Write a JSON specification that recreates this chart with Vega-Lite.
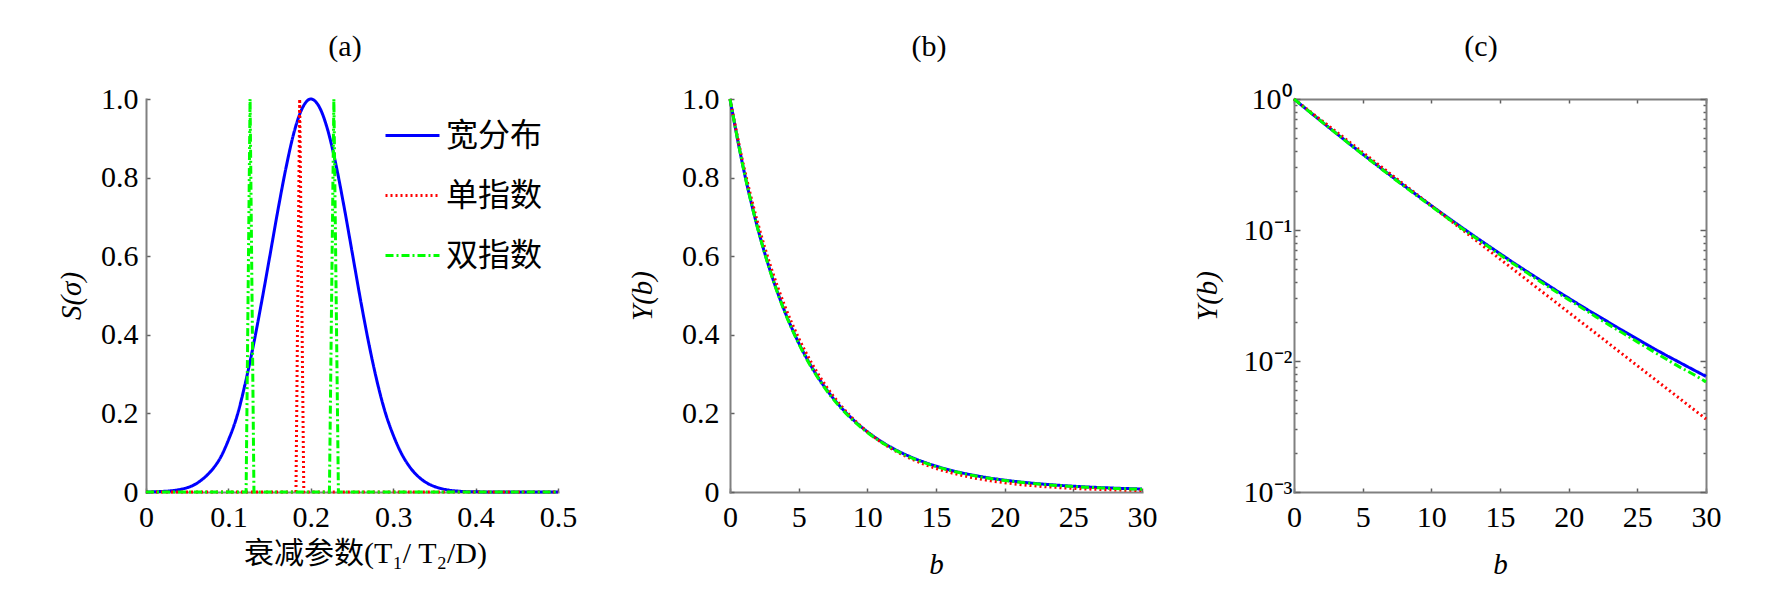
{
  "$schema": "https://vega.github.io/schema/vega-lite/v6.json",
  "padding": {"left": 57, "top": 32, "right": 0, "bottom": 0},
  "bounds": "flush",
  "spacing": 152,
  "datasets": {
    "sigma": [
      {"x": 0, "y": 0, "s": "宽分布"}, {"x": 0.02, "y": 0.0015, "s": "宽分布"}, {"x": 0.03, "y": 0.003, "s": "宽分布"}, {"x": 0.04, "y": 0.006, "s": "宽分布"}, {"x": 0.05, "y": 0.011, "s": "宽分布"}, {"x": 0.06, "y": 0.02, "s": "宽分布"}, {"x": 0.07, "y": 0.035, "s": "宽分布"}, {"x": 0.08, "y": 0.056, "s": "宽分布"}, {"x": 0.09, "y": 0.086, "s": "宽分布"}, {"x": 0.1, "y": 0.132, "s": "宽分布"}, {"x": 0.11, "y": 0.19, "s": "宽分布"}, {"x": 0.12, "y": 0.272, "s": "宽分布"}, {"x": 0.13, "y": 0.37, "s": "宽分布"}, {"x": 0.14, "y": 0.48, "s": "宽分布"}, {"x": 0.15, "y": 0.597, "s": "宽分布"}, {"x": 0.16, "y": 0.716, "s": "宽分布"}, {"x": 0.17, "y": 0.826, "s": "宽分布"}, {"x": 0.18, "y": 0.918, "s": "宽分布"}, {"x": 0.19, "y": 0.978, "s": "宽分布"}, {"x": 0.2, "y": 1.0, "s": "宽分布"}, {"x": 0.21, "y": 0.981, "s": "宽分布"}, {"x": 0.22, "y": 0.925, "s": "宽分布"}, {"x": 0.23, "y": 0.838, "s": "宽分布"}, {"x": 0.24, "y": 0.73, "s": "宽分布"}, {"x": 0.25, "y": 0.612, "s": "宽分布"}, {"x": 0.26, "y": 0.493, "s": "宽分布"}, {"x": 0.27, "y": 0.382, "s": "宽分布"}, {"x": 0.28, "y": 0.285, "s": "宽分布"}, {"x": 0.29, "y": 0.205, "s": "宽分布"}, {"x": 0.3, "y": 0.145, "s": "宽分布"}, {"x": 0.31, "y": 0.098, "s": "宽分布"}, {"x": 0.32, "y": 0.064, "s": "宽分布"}, {"x": 0.33, "y": 0.04, "s": "宽分布"}, {"x": 0.34, "y": 0.024, "s": "宽分布"}, {"x": 0.35, "y": 0.014, "s": "宽分布"}, {"x": 0.36, "y": 0.008, "s": "宽分布"}, {"x": 0.37, "y": 0.004, "s": "宽分布"}, {"x": 0.38, "y": 0.002, "s": "宽分布"}, {"x": 0.4, "y": 0.0004, "s": "宽分布"}, {"x": 0.45, "y": 0, "s": "宽分布"}, {"x": 0.5, "y": 0, "s": "宽分布"},
      {"x": 0, "y": 0, "s": "单指数"}, {"x": 0.182, "y": 0, "s": "单指数"}, {"x": 0.1865, "y": 1.0, "s": "单指数"}, {"x": 0.1915, "y": 0, "s": "单指数"}, {"x": 0.5, "y": 0, "s": "单指数"},
      {"x": 0, "y": 0, "s": "双指数"}, {"x": 0.1215, "y": 0, "s": "双指数"}, {"x": 0.1263, "y": 1.0, "s": "双指数"}, {"x": 0.131, "y": 0, "s": "双指数"}, {"x": 0.2226, "y": 0, "s": "双指数"}, {"x": 0.228, "y": 1.0, "s": "双指数"}, {"x": 0.2335, "y": 0, "s": "双指数"}, {"x": 0.5, "y": 0, "s": "双指数"}
    ],
    "decay": [
      {"b": 0, "y": 1, "s": "宽分布"}, {"b": 1, "y": 0.8198, "s": "宽分布"}, {"b": 2, "y": 0.6737, "s": "宽分布"}, {"b": 3, "y": 0.555, "s": "宽分布"}, {"b": 4, "y": 0.4584, "s": "宽分布"}, {"b": 5, "y": 0.3796, "s": "宽分布"}, {"b": 6, "y": 0.3151, "s": "宽分布"}, {"b": 7, "y": 0.2622, "s": "宽分布"}, {"b": 8, "y": 0.2187, "s": "宽分布"}, {"b": 9, "y": 0.1829, "s": "宽分布"}, {"b": 10, "y": 0.1534, "s": "宽分布"}, {"b": 11, "y": 0.1289, "s": "宽分布"}, {"b": 12, "y": 0.1086, "s": "宽分布"}, {"b": 13, "y": 0.0917, "s": "宽分布"}, {"b": 14, "y": 0.0777, "s": "宽分布"}, {"b": 15, "y": 0.066, "s": "宽分布"}, {"b": 16, "y": 0.0561, "s": "宽分布"}, {"b": 17, "y": 0.0479, "s": "宽分布"}, {"b": 18, "y": 0.041, "s": "宽分布"}, {"b": 19, "y": 0.0351, "s": "宽分布"}, {"b": 20, "y": 0.0302, "s": "宽分布"}, {"b": 21, "y": 0.026, "s": "宽分布"}, {"b": 22, "y": 0.0225, "s": "宽分布"}, {"b": 23, "y": 0.0195, "s": "宽分布"}, {"b": 24, "y": 0.0169, "s": "宽分布"}, {"b": 25, "y": 0.0147, "s": "宽分布"}, {"b": 26, "y": 0.0128, "s": "宽分布"}, {"b": 27, "y": 0.0112, "s": "宽分布"}, {"b": 28, "y": 0.00985, "s": "宽分布"}, {"b": 29, "y": 0.00866, "s": "宽分布"}, {"b": 30, "y": 0.00763, "s": "宽分布"},
      {"b": 0, "y": 1, "s": "单指数"}, {"b": 1, "y": 0.829, "s": "单指数"}, {"b": 2, "y": 0.6873, "s": "单指数"}, {"b": 3, "y": 0.5698, "s": "单指数"}, {"b": 4, "y": 0.4724, "s": "单指数"}, {"b": 5, "y": 0.3916, "s": "单指数"}, {"b": 6, "y": 0.3247, "s": "单指数"}, {"b": 7, "y": 0.2691, "s": "单指数"}, {"b": 8, "y": 0.2231, "s": "单指数"}, {"b": 9, "y": 0.185, "s": "单指数"}, {"b": 10, "y": 0.1534, "s": "单指数"}, {"b": 11, "y": 0.1271, "s": "单指数"}, {"b": 12, "y": 0.1054, "s": "单指数"}, {"b": 13, "y": 0.0874, "s": "单指数"}, {"b": 14, "y": 0.0724, "s": "单指数"}, {"b": 15, "y": 0.06, "s": "单指数"}, {"b": 16, "y": 0.0498, "s": "单指数"}, {"b": 17, "y": 0.0413, "s": "单指数"}, {"b": 18, "y": 0.0342, "s": "单指数"}, {"b": 19, "y": 0.0284, "s": "单指数"}, {"b": 20, "y": 0.0235, "s": "单指数"}, {"b": 21, "y": 0.0195, "s": "单指数"}, {"b": 22, "y": 0.0162, "s": "单指数"}, {"b": 23, "y": 0.0134, "s": "单指数"}, {"b": 24, "y": 0.0111, "s": "单指数"}, {"b": 25, "y": 0.0092, "s": "单指数"}, {"b": 26, "y": 0.00763, "s": "单指数"}, {"b": 27, "y": 0.00633, "s": "单指数"}, {"b": 28, "y": 0.00525, "s": "单指数"}, {"b": 29, "y": 0.00435, "s": "单指数"}, {"b": 30, "y": 0.00361, "s": "单指数"},
      {"b": 0, "y": 1, "s": "双指数"}, {"b": 1, "y": 0.8193, "s": "双指数"}, {"b": 2, "y": 0.6727, "s": "双指数"}, {"b": 3, "y": 0.5536, "s": "双指数"}, {"b": 4, "y": 0.4566, "s": "双指数"}, {"b": 5, "y": 0.3775, "s": "双指数"}, {"b": 6, "y": 0.3128, "s": "双指数"}, {"b": 7, "y": 0.26, "s": "双指数"}, {"b": 8, "y": 0.2165, "s": "双指数"}, {"b": 9, "y": 0.1808, "s": "双指数"}, {"b": 10, "y": 0.1515, "s": "双指数"}, {"b": 11, "y": 0.1271, "s": "双指数"}, {"b": 12, "y": 0.107, "s": "双指数"}, {"b": 13, "y": 0.0903, "s": "双指数"}, {"b": 14, "y": 0.0764, "s": "双指数"}, {"b": 15, "y": 0.0647, "s": "双指数"}, {"b": 16, "y": 0.055, "s": "双指数"}, {"b": 17, "y": 0.0469, "s": "双指数"}, {"b": 18, "y": 0.04, "s": "双指数"}, {"b": 19, "y": 0.0342, "s": "双指数"}, {"b": 20, "y": 0.0294, "s": "双指数"}, {"b": 21, "y": 0.0253, "s": "双指数"}, {"b": 22, "y": 0.0217, "s": "双指数"}, {"b": 23, "y": 0.0187, "s": "双指数"}, {"b": 24, "y": 0.0162, "s": "双指数"}, {"b": 25, "y": 0.014, "s": "双指数"}, {"b": 26, "y": 0.0121, "s": "双指数"}, {"b": 27, "y": 0.0105, "s": "双指数"}, {"b": 28, "y": 0.0091, "s": "双指数"}, {"b": 29, "y": 0.008, "s": "双指数"}, {"b": 30, "y": 0.00693, "s": "双指数"}
    ]
  },
  "resolve": {"scale": {"color": "independent", "strokeDash": "independent"}},
  "hconcat": [
    {
      "width": 432,
      "height": 393,
      "title": {"text": "(a)", "frame": "group", "anchor": "middle", "dx": -17, "offset": -2, "baseline": "alphabetic"},
      "data": {"name": "sigma"},
      "encoding": {
        "x": {"field": "x", "type": "quantitative", "scale": {"domain": [0, 0.5], "range": [0, 412], "nice": false, "zero": false},
          "axis": {"values": [0, 0.1, 0.2, 0.3, 0.4, 0.5], "labelExpr": "datum.value == 0 ? '0' : format(datum.value, '.1f')", "title": "衰减参数(T₁/ T₂/D)", "titleFont": "Liberation Serif, Noto Sans CJK SC", "titleFontSize": 30, "titleX": 219, "titleY": 46, "labelFlush": false, "labelPadding": 14}},
        "y": {"field": "y", "type": "quantitative", "scale": {"domain": [0, 1], "nice": false},
          "axis": {"values": [0, 0.2, 0.4, 0.6, 0.8, 1], "labelExpr": "datum.value == 0 ? '0' : format(datum.value, '.1f')", "title": "S(σ)", "titleFontStyle": "italic", "titleX": -60, "titleY": 196.5, "labelPadding": 12}},
        "color": {"field": "s", "type": "nominal", "scale": {"domain": ["宽分布", "单指数", "双指数"], "range": ["#0000ff", "#ff0000", "#00ff00"]},
          "legend": {"orient": "none", "legendX": 238, "legendY": 8, "title": null, "symbolType": "stroke", "symbolSize": 2916, "symbolStrokeWidth": 3, "labelFontSize": 32, "labelFont": "Liberation Serif, Noto Sans CJK SC", "labelColor": "#000", "labelOffset": 5, "rowPadding": 15, "padding": 0}},
        "strokeDash": {"field": "s", "type": "nominal", "scale": {"domain": ["宽分布", "单指数", "双指数"], "range": [[1, 0], [2, 3], [8, 3, 2, 3]]}, "legend": null}
      },
      "layer": [
        {"transform": [{"filter": "datum.s == '宽分布'"}], "mark": {"type": "line", "strokeWidth": 3, "interpolate": "monotone"}},
        {"transform": [{"filter": "datum.s != '宽分布'"}], "mark": {"type": "line", "strokeWidth": 3}}
      ]
    },
    {
      "width": 412,
      "height": 393,
      "title": {"text": "(b)", "frame": "group", "anchor": "middle", "dx": -7, "offset": -2, "baseline": "alphabetic"},
      "data": {"name": "decay"},
      "mark": {"type": "line", "strokeWidth": 3, "interpolate": "monotone"},
      "encoding": {
        "x": {"field": "b", "type": "quantitative", "scale": {"domain": [0, 30], "nice": false, "zero": false},
          "axis": {"values": [0, 5, 10, 15, 20, 25, 30], "title": "b", "titleFontStyle": "italic", "titleY": 58, "labelFlush": false, "labelPadding": 14}},
        "y": {"field": "y", "type": "quantitative", "scale": {"domain": [0, 1], "nice": false},
          "axis": {"values": [0, 0.2, 0.4, 0.6, 0.8, 1], "labelExpr": "datum.value == 0 ? '0' : format(datum.value, '.1f')", "title": "Y(b)", "titleFontStyle": "italic", "titleX": -73, "titleY": 196.5, "labelPadding": 15}},
        "color": {"field": "s", "type": "nominal", "scale": {"domain": ["宽分布", "单指数", "双指数"], "range": ["#0000ff", "#ff0000", "#00ff00"]}, "legend": null},
        "strokeDash": {"field": "s", "type": "nominal", "scale": {"domain": ["宽分布", "单指数", "双指数"], "range": [[1, 0], [2, 3], [8, 3, 2, 3]]}, "legend": null}
      }
    },
    {
      "width": 412,
      "height": 393,
      "title": {"text": "(c)", "frame": "group", "anchor": "middle", "dx": -19, "offset": -2, "baseline": "alphabetic"},
      "data": {"name": "decay"},
      "resolve": {"axis": {"x": "independent", "y": "independent"}},
      "layer": [
        {
          "mark": {"type": "line", "strokeWidth": 3, "interpolate": "monotone"},
          "encoding": {
            "x": {"field": "b", "type": "quantitative", "scale": {"domain": [0, 30], "nice": false, "zero": false},
              "axis": {"orient": "bottom", "values": [0, 5, 10, 15, 20, 25, 30], "title": "b", "titleFontStyle": "italic", "titleY": 58, "labelFlush": false, "labelPadding": 14}},
            "y": {"field": "y", "type": "quantitative", "scale": {"type": "log", "domain": [0.001, 1], "nice": false},
              "axis": {"orient": "left", "values": [0.001, 0.002, 0.003, 0.004, 0.005, 0.006, 0.007, 0.008, 0.009, 0.01, 0.02, 0.03, 0.04, 0.05, 0.06, 0.07, 0.08, 0.09, 0.1, 0.2, 0.3, 0.4, 0.5, 0.6, 0.7, 0.8, 0.9, 1],
                "labelExpr": "datum.value == 1 ? '10⁰' : datum.value == 0.1 ? '10⁻¹' : datum.value == 0.01 ? '10⁻²' : datum.value == 0.001 ? '10⁻³' : ''",
                "labelOverlap": false, "labelPadding": 8,
                "tickSize": {"condition": {"test": "datum.value == 1 || datum.value == 0.1 || datum.value == 0.01 || datum.value == 0.001", "value": -6}, "value": -3},
                "title": "Y(b)", "titleFontStyle": "italic", "titleX": -72, "titleY": 196.5}},
            "color": {"field": "s", "type": "nominal", "scale": {"domain": ["宽分布", "单指数", "双指数"], "range": ["#0000ff", "#ff0000", "#00ff00"]}, "legend": null},
            "strokeDash": {"field": "s", "type": "nominal", "scale": {"domain": ["宽分布", "单指数", "双指数"], "range": [[1, 0], [2, 3], [8, 3, 2, 3]]}, "legend": null}
          }
        },
        {
          "mark": {"type": "line", "strokeWidth": 0, "opacity": 0},
          "encoding": {
            "x": {"field": "b", "type": "quantitative", "axis": {"orient": "top", "values": [0, 5, 10, 15, 20, 25, 30], "labels": false, "title": null}},
            "y": {"field": "y", "type": "quantitative",
              "axis": {"orient": "right", "values": [0.001, 0.002, 0.003, 0.004, 0.005, 0.006, 0.007, 0.008, 0.009, 0.01, 0.02, 0.03, 0.04, 0.05, 0.06, 0.07, 0.08, 0.09, 0.1, 0.2, 0.3, 0.4, 0.5, 0.6, 0.7, 0.8, 0.9, 1],
                "labels": false, "title": null,
                "tickSize": {"condition": {"test": "datum.value == 1 || datum.value == 0.1 || datum.value == 0.01 || datum.value == 0.001", "value": -6}, "value": -3}}},
            "detail": {"field": "s", "type": "nominal"}
          }
        }
      ]
    }
  ],
  "config": {
    "font": "Liberation Serif",
    "view": {"stroke": null},
    "axis": {"labelFont": "Liberation Serif", "labelFontSize": 30, "labelColor": "#000000", "titleFont": "Liberation Serif", "titleFontSize": 29, "titleColor": "#000000", "titleFontWeight": "normal", "domainColor": "#808080", "domainWidth": 2, "domainCap": "square", "tickColor": "#606060", "tickWidth": 1.5, "tickSize": -4, "grid": false},
    "title": {"font": "Liberation Serif", "fontSize": 30, "fontWeight": "normal", "color": "#000000"}
  }
}
